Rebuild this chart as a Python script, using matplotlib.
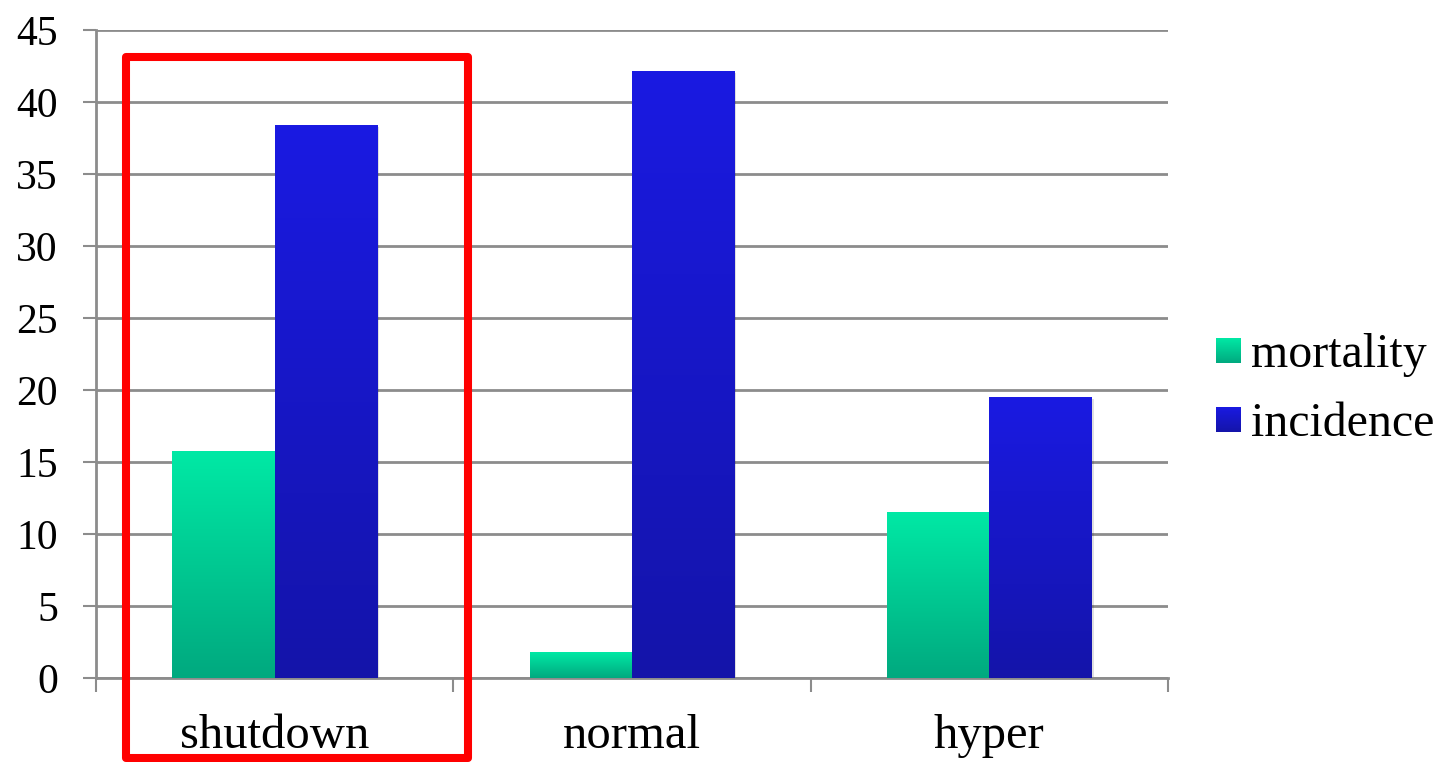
import numpy as np
import matplotlib.pyplot as plt
from matplotlib.colors import LinearSegmentedColormap
from matplotlib.patches import Rectangle
from matplotlib import transforms

categories = ["shutdown", "normal", "hyper"]
mortality = [15.7, 1.8, 11.5]
incidence = [38.4, 42.15, 19.5]
series_names = ["mortality", "incidence"]
y_ticks = [0, 5, 10, 15, 20, 25, 30, 35, 40, 45]

plt.rcParams['font.family'] = ['Liberation Serif', 'DejaVu Serif']

W, H = 1440, 762
fig = plt.figure(figsize=(W / 100, H / 100), dpi=100)
ax = fig.add_axes([96 / W, 84 / H, (1168 - 96) / W, (678 - 30) / H])

grid_col = '#8c8c8c'
ramps = {
    'mortality': LinearSegmentedColormap.from_list('mort', ['#00a97f', '#00e9a5']),
    'incidence': LinearSegmentedColormap.from_list('inc', ['#1414a9', '#1a1ae2']),
}
grad = np.linspace(0, 1, 256).reshape(-1, 1)

x = np.arange(len(categories))
w = 0.286

# bars: geometry from ax.bar, fill painted as a vertical gradient per bar
shadow_tf = transforms.offset_copy(ax.transData, fig=fig, x=2, y=-2, units='dots')
for offset, vals, name in [(-w / 2, mortality, 'mortality'), (w / 2, incidence, 'incidence')]:
    bars = ax.bar(x + offset, vals, w, color='none', linewidth=0, zorder=3)
    for b in bars:
        x0, y0, bw, bh = b.get_x(), b.get_y(), b.get_width(), b.get_height()
        ax.add_patch(Rectangle((x0, y0), bw, bh, transform=shadow_tf,
                               facecolor='#000000', alpha=0.12, linewidth=0, zorder=2.5))
        ax.imshow(grad, extent=[x0, x0 + bw, y0, y0 + bh], origin='lower',
                  cmap=ramps[name], aspect='auto', zorder=3, interpolation='bilinear')

ax.set_xlim(-0.5, 2.5)
ax.set_ylim(0, 45)

ax.set_yticks(y_ticks)
ax.yaxis.grid(True, color=grid_col, linewidth=2)
ax.set_axisbelow(True)
ax.tick_params(axis='y', length=9.4, width=1.5, color=grid_col, pad=18, labelsize=30)

ax.set_xticks(x)
ax.set_xticklabels(categories)
ax.set_xticks(np.arange(-0.5, 3, 1), minor=True)
ax.tick_params(axis='x', which='major', length=0, pad=26, labelsize=35)
ax.tick_params(axis='x', which='minor', length=10, width=1.5, color=grid_col)

for side in ['top', 'right']:
    ax.spines[side].set_visible(False)
for side in ['left', 'bottom']:
    ax.spines[side].set_color(grid_col)
    ax.spines[side].set_linewidth(2)

# highlight box around the shutdown group
ax.add_patch(Rectangle((-0.416, -5.56), 0.958, 48.66, fill=False, edgecolor='#ff0000',
                       linewidth=5.8, joinstyle='round', clip_on=False, zorder=10))

# legend with gradient swatches
for i, name in enumerate(series_names):
    top = 338 + i * 69
    sw = fig.add_axes([1216 / W, (H - top - 25) / H, 25 / W, 25 / H])
    sw.imshow(grad, origin='lower', cmap=ramps[name], aspect='auto', extent=[0, 1, 0, 1])
    sw.set_axis_off()
    fig.text(1251 / W, (H - top - 17) / H, name, fontsize=34.5, va='center', ha='left')

fig.savefig('out.png', dpi=100)
